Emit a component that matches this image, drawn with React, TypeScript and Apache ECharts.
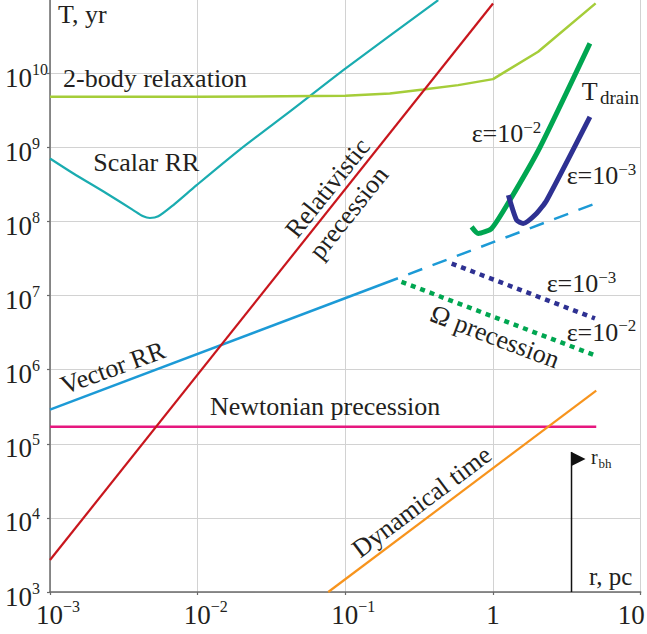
import React, { useEffect, useRef } from 'react';
import * as echarts from 'echarts';

const FONT = '"Liberation Serif", "Times New Roman", Times, serif';
const TXT = '#231f20';

// ---- data (r in pc, T in yr) ----
const relX = [0.001, 1];
const relY = [2.7e3, 8.7e10];

const dynX = [0.0766, 5];
const dynY = [1.0e3, 5.2e5];

const newtX = [0.001, 5];
const newtY = [1.69e5, 1.69e5];

const vecX = [0.001, 0.227];
const vecY = [2.88e5, 1.71e7];
const vecDashX = [0.227, 5];
const vecDashY = [1.71e7, 1.76e8];

const scalarX = [0.001, 0.00144, 0.00242, 0.00366, 0.00428, 0.00475, 0.00541, 0.00684, 0.00984, 0.0193, 0.0433, 0.1005, 0.4256];
const scalarY = [7.06e8, 4.43e8, 2.38e8, 1.42e8, 1.17e8, 1.11e8, 1.17e8, 1.66e8, 3.08e8, 9.3e8, 3.17e9, 1.16e10, 9.66e10];

const twoBodyX = [0.001, 0.01, 0.1, 0.2, 0.337, 0.581, 1.0, 2.02, 4.95];
const twoBodyY = [4.79e9, 4.8e9, 4.94e9, 5.32e9, 6.03e9, 6.89e9, 8.3e9, 1.94e10, 8.73e10];

const omega3X = [0.525, 4.9];
const omega3Y = [2.7e7, 4.9e6];
const omega2X = [0.24, 4.9];
const omega2Y = [1.53e7, 1.56e6];

const drain2X = [0.716, 0.794, 0.978, 1.3, 2.08, 4.53];
const drain2Y = [8.43e7, 6.87e7, 8.02e7, 1.93e8, 1.0e9, 2.52e10];
const drain3X = [1.27, 1.445, 1.6, 1.97, 2.31, 4.53];
const drain3Y = [2.26e8, 1.04e8, 9.38e7, 1.28e8, 1.93e8, 2.57e9];

const rbhX = [3.4, 3.4];
const rbhY = [1.0e3, 7.75e4];

const pairs = (xs: number[], ys: number[]) => xs.map((x, i) => [x, ys[i]]);

const MINUS = '\u2212';

function line(xs: number[], ys: number[], color: string, width: number, type: any = 'solid', extra: any = {}) {
  return {
    type: 'line',
    data: pairs(xs, ys),
    symbol: 'none',
    showSymbol: false,
    silent: true,
    lineStyle: { color, width, type, cap: 'butt', ...(extra.lineStyle || {}) },
    ...extra.rest,
  };
}

function txt(text: string, x: number, y: number, size = 26, opts: any = {}) {
  return {
    type: 'text',
    x,
    y,
    rotation: opts.rotation || 0,
    z: 100,
    silent: true,
    style: {
      text,
      fontSize: size,
      fontFamily: FONT,
      fill: TXT,
      align: opts.align || 'left',
      verticalAlign: opts.verticalAlign || 'middle',
      rich: opts.rich,
    },
  };
}

const epsRich = {
  m: { fontSize: 26, lineHeight: 28, verticalAlign: 'bottom', fontFamily: FONT, color: TXT },
  s: { fontSize: 17, lineHeight: 14, verticalAlign: 'top', fontFamily: FONT, color: TXT },
};
const eps = (exp: string, x: number, baseline: number) =>
  txt(`{m|\u03b5=10}{s|${MINUS}${exp}}`, x, baseline - 22.8, 26, { verticalAlign: 'top', rich: epsRich });

export default function App() {
  const ref = useRef<HTMLDivElement>(null);
  useEffect(() => {
    const chart = echarts.init(ref.current!, null, { renderer: 'svg' });
    const tickRich = {
      b: { fontSize: 27, lineHeight: 30, verticalAlign: 'bottom', fontFamily: FONT, color: TXT },
      s: { fontSize: 16, lineHeight: 14, verticalAlign: 'top', fontFamily: FONT, color: TXT },
      p: { fontSize: 16, width: 16, lineHeight: 14 },
      t: { fontSize: 27, lineHeight: 30, verticalAlign: 'bottom', fontFamily: FONT, color: TXT, padding: [0, 19, 0, 0] },
    };
    const expOf = (v: number) => Math.round(Math.log10(v));
    const axisColor = '#6a6a6a';
    const gridColor = '#d2d2d2';

    chart.setOption({
      animation: false,
      backgroundColor: '#ffffff',
      grid: { left: 50, right: 6.3, top: -1, bottom: 42, containLabel: false, outerBoundsMode: 'none' },
      xAxis: {
        type: 'log',
        logBase: 10,
        min: 0.001,
        max: 10,
        axisLine: { show: true, lineStyle: { color: axisColor, width: 1.5 } },
        axisTick: { show: true, length: 3, lineStyle: { color: axisColor, width: 1.2 } },
        splitLine: { show: true, lineStyle: { color: gridColor, width: 1 } },
        minorTick: { show: false },
        axisLabel: {
          margin: 6,
          showMinLabel: true,
          showMaxLabel: true,
          hideOverlap: false,
          rich: tickRich,
          formatter: (v: number) => {
            const e = expOf(v);
            if (e === 0) return '{b|1}';
            if (e === 1) return '{t|10}';
            return `{p| }{b|10}{s|${e < 0 ? MINUS + -e : e}}`;
          },
        },
      },
      yAxis: {
        type: 'log',
        logBase: 10,
        min: 1e3,
        max: 1e11,
        axisLine: { show: true, lineStyle: { color: axisColor, width: 1.5 } },
        axisTick: { show: true, length: 3, lineStyle: { color: axisColor, width: 1.2 } },
        splitLine: { show: true, lineStyle: { color: gridColor, width: 1 } },
        minorTick: { show: false },
        axisLabel: {
          align: 'left',
          margin: 45,
          padding: [6, 0, 0, 0],
          showMinLabel: true,
          showMaxLabel: false,
          hideOverlap: false,
          rich: tickRich,
          formatter: (v: number) => {
            const e = expOf(v);
            return `{b|10}{s|${e < 0 ? MINUS + -e : e}}`;
          },
        },
      },
      series: [
        line(newtX, newtY, '#e6177e', 2.5),
        line(dynX, dynY, '#f7941d', 2.2),
        line(vecX, vecY, '#1c9ad6', 2.5),
        line(vecDashX, vecDashY, '#1c9ad6', 2.5, [15, 11], { lineStyle: { dashOffset: 15 } }),
        line(scalarX, scalarY, '#1aacb0', 2.2, 'solid', { rest: { smooth: 0.25 } }),
        line(twoBodyX, twoBodyY, '#a5cd39', 2.5),
        line(omega3X, omega3Y, '#2e3192', 4.5, [5, 5]),
        line(omega2X, omega2Y, '#00a651', 4.5, [5, 5]),
        line(drain2X, drain2Y, '#00a651', 5, 'solid', { rest: { smooth: 0.2 } }),
        line(drain3X, drain3Y, '#2e3192', 5, 'solid', { rest: { smooth: 0.2 } }),
        line(relX, relY, '#c8161d', 2.2),
        {
          type: 'line',
          silent: true,
          symbol: 'none',
          showSymbol: true,
          lineStyle: { color: '#111111', width: 1.5 },
          data: [
            { value: [rbhX[0], rbhY[0]], symbol: 'none' },
            {
              value: [rbhX[1], rbhY[1]],
              symbol: 'triangle',
              symbolSize: [14, 14],
              symbolRotate: -90,
              symbolOffset: [7, 7],
              itemStyle: { color: '#111111' },
            },
          ],
        },
      ],
      graphic: [
        txt('T, yr', 58, 14.5),
        txt('2-body relaxation', 63, 78.5),
        txt('Scalar RR', 93.3, 162.9),
        txt('Newtonian precession', 210, 406.2),
        txt('r, pc', 589, 576.6, 25),
        txt('T', 581.7, 91.2),
        txt('drain', 600, 97.6, 19),
        txt('r', 591, 456.5, 20),
        txt('bh', 598.5, 463.6, 13),
        txt('Relativistic', 327.5, 188, 26, { align: 'center', rotation: (51.4 * Math.PI) / 180 }),
        txt('precession', 348.7, 212.7, 26, { align: 'center', rotation: (51.4 * Math.PI) / 180 }),
        txt('Vector RR', 112.8, 367.8, 26, { align: 'center', rotation: (20 * Math.PI) / 180 }),
        txt('Dynamical time', 421.7, 501.7, 26, { align: 'center', rotation: (37 * Math.PI) / 180 }),
        txt('\u03a9 precession', 495, 336.7, 26, { align: 'center', rotation: (-20.8 * Math.PI) / 180 }),
        eps('2', 471.7, 141.7),
        eps('3', 566.7, 183.3),
        eps('3', 546.7, 291.7),
        eps('2', 566.7, 340),
      ],
    });
    return () => chart.dispose();
  }, []);
  return <div ref={ref} style={{ position: 'fixed', left: 0, top: 0, width: 647, height: 634, background: '#fff' }} />;
}
